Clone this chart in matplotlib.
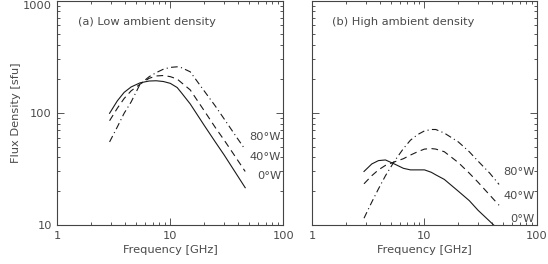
import matplotlib
matplotlib.use("Agg")
import matplotlib.pyplot as plt
from matplotlib.ticker import LogLocator, NullFormatter, FixedLocator, FixedFormatter

# === Data ===
freq = [2.9, 3.4, 3.9, 4.5, 5.4, 6.5, 7.5, 8.7, 10, 11.5, 12.6, 15, 20, 25, 30, 38, 46]

# (a) low ambient density
low_0w = [99, 128, 152, 170, 185, 192, 193, 190, 183, 168, 150, 120, 77, 55, 42, 29, 21.5]
low_40w = [85, 110, 134, 157, 180, 203, 213, 215, 210, 200, 185, 160, 104, 74, 57, 40, 30]
low_80w = [55, 75, 99, 125, 180, 210, 228, 245, 254, 257, 252, 232, 156, 115, 88, 62, 47]

# (b) high ambient density
high_0w = [30, 35, 37.5, 38, 35, 32, 31, 31, 31, 29.5, 28, 25.5, 20, 16.5, 13.5, 10.8, 9.0]
high_40w = [23.3, 27.5, 31, 34, 36.5, 39, 42, 45, 47.5, 48, 47.5, 45, 36, 29, 24, 18.5, 15]
high_80w = [11.5, 16, 21, 27.5, 37, 48, 57, 64, 69, 71, 71, 66, 55, 45, 37, 29, 23]

panel_titles = ["(a) Low ambient density", "(b) High ambient density"]
curve_labels = ["80°W", "40°W", "0°W"]
xticks = [1, 10, 100]
xtick_labels = ["1", "10", "100"]
yticks = [10, 100, 1000]
ytick_labels = ["10", "100", "1000"]

TEXT = "#4a4a4a"
LINE = "#1a1a1a"
plt.rcParams["font.family"] = ["DejaVu Sans"]
plt.rcParams["font.size"] = 8.2


def style_axis(ax, show_ylabels):
    ax.set_xscale("log")
    ax.set_yscale("log")
    ax.set_xlim(1, 100)
    ax.set_ylim(10, 1000)
    ax.xaxis.set_major_locator(FixedLocator(xticks))
    ax.xaxis.set_major_formatter(FixedFormatter(xtick_labels))
    ax.yaxis.set_major_locator(FixedLocator(yticks))
    ax.yaxis.set_major_formatter(FixedFormatter(ytick_labels if show_ylabels else ["", "", ""]))
    ax.xaxis.set_minor_locator(LogLocator(base=10, subs=range(2, 10)))
    ax.yaxis.set_minor_locator(LogLocator(base=10, subs=range(2, 10)))
    ax.xaxis.set_minor_formatter(NullFormatter())
    ax.yaxis.set_minor_formatter(NullFormatter())
    ax.tick_params(which="both", direction="in", top=True, right=True,
                   colors="#555555", labelcolor=TEXT, width=0.7)
    ax.tick_params(which="major", length=5, pad=4)
    ax.tick_params(which="minor", length=2.5)
    for s in ax.spines.values():
        s.set_color("#444444")
        s.set_linewidth(0.8)
    ax.set_xlabel("Frequency [GHz]", color=TEXT, labelpad=3)


def draw_panel(ax, ys, title, label_y):
    ax.plot(freq, ys[0], color=LINE, lw=0.8, ls="-")
    ax.plot(freq, ys[1], color=LINE, lw=0.8, ls=(0, (6, 4)))
    ax.plot(freq, ys[2], color=LINE, lw=0.8, ls=(0, (6, 3, 1, 3)))
    ax.text(0.09, 0.905, title, transform=ax.transAxes, color=TEXT,
            ha="left", va="center")
    for lab, y in zip(curve_labels, label_y):
        ax.text(0.99, y, lab, transform=ax.transAxes, color=TEXT,
                ha="right", va="center")


fig = plt.figure(figsize=(5.48, 2.64), dpi=100)
ax1 = fig.add_axes([0.1046, 0.1477, 0.4124, 0.850])
ax2 = fig.add_axes([0.5693, 0.1477, 0.4106, 0.850])

style_axis(ax1, True)
style_axis(ax2, False)
ax1.set_ylabel("Flux Density [sfu]", color=TEXT, labelpad=1)

# keep the top "1000" label inside the figure, as in the reference
ax1.yaxis.get_major_ticks()[2].label1.set_verticalalignment("top")

draw_panel(ax1, [low_0w, low_40w, low_80w], panel_titles[0], [0.393, 0.304, 0.218])
draw_panel(ax2, [high_0w, high_40w, high_80w], panel_titles[1], [0.237, 0.130, 0.028])

fig.savefig("out.png", dpi=100)
